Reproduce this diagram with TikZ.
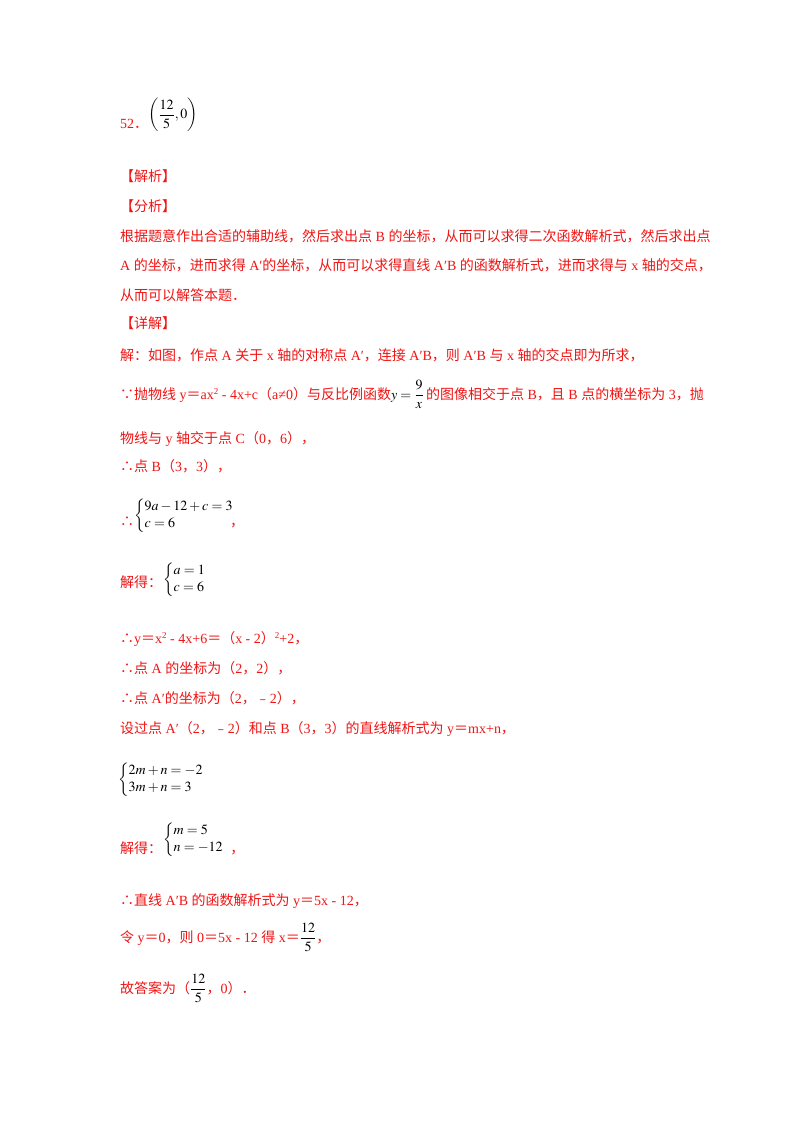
\documentclass[tikz,border=0pt]{standalone}
\usepackage{amsmath}
\usepackage{mathptmx}
\usepackage[no-math]{fontspec}
\setmainfont{Liberation Serif}
\newfontfamily\cjk{Noto Sans CJK SC}
\newfontfamily\latinf{Liberation Serif}
\usepackage{xcolor}
\definecolor{ans}{RGB}{240,20,20}
\newcount\cc
\cc="4E00 \loop \XeTeXcharclass\cc=7 \advance\cc 1 \ifnum\cc<"A000 \repeat
\cc="3000 \loop \XeTeXcharclass\cc=7 \advance\cc 1 \ifnum\cc<"3040 \repeat
\cc="FF00 \loop \XeTeXcharclass\cc=7 \advance\cc 1 \ifnum\cc<"FFF0 \repeat
\cc="FE30 \loop \XeTeXcharclass\cc=7 \advance\cc 1 \ifnum\cc<"FE70 \repeat
\XeTeXcharclass"2234=7 \XeTeXcharclass"2235=7
\XeTeXinterchartokenstate=1
\XeTeXinterchartoks 0 7 {\cjk}
\XeTeXinterchartoks 4095 7 {\cjk}
\XeTeXinterchartoks 7 0 {\latinf}
\XeTeXinterchartoks 7 4095 {\latinf}
\newcommand{\bm}[1]{\textcolor{black}{$#1$}}
\newcommand{\sq}{\raisebox{5pt}{\fontsize{9}{9}\selectfont 2}}
\begin{document}
\begin{tikzpicture}[x=1pt,y=-1pt,
  t/.style={anchor=base west,inner sep=0pt,text=ans,font=\fontsize{14}{17}\selectfont},
  m/.style={anchor=west,inner sep=0pt,text=black,font=\fontsize{14}{17}\selectfont}]
\useasboundingbox[fill=white] (0,0) rectangle (800,1132);
\node[t] (n52) at (120,128) {52．};
\node[m] (ans) at (148,115) {$\left(\dfrac{12}{5},0\right)$};
\node[t] (h1) at (120,181) {【解析】};
\node[t] (h2) at (120,211) {【分析】};
\node[t] (l1) at (120,241) {根据题意作出合适的辅助线，然后求出点 B 的坐标，从而可以求得二次函数解析式，然后求出点};
\node[t] (l2) at (120,270) {A 的坐标，进而求得 A′的坐标，从而可以求得直线 A′B 的函数解析式，进而求得与 x 轴的交点，};
\node[t] (l3) at (120,300) {从而可以解答本题．};
\node[t] (h3) at (120,328) {【详解】};
\node[t] (l4) at (120,360) {解：如图，作点 A 关于 x 轴的对称点 A′，连接 A′B，则 A′B 与 x 轴的交点即为所求，};
\node[t] (l5) at (120,399) {∵抛物线 y＝ax\sq{} ‐ 4x+c（a≠0）与反比例函数\bm{y=\dfrac{9}{x}}\,的图像相交于点 B，且 B 点的横坐标为 3，抛};
\node[t] (l6) at (120,443) {物线与 y 轴交于点 C（0，6），};
\node[t] (l7) at (120,471) {∴点 B（3，3），};
\node[t] (l8) at (120,526) {∴};
\node[m] (s1) at (134,516) {$\left\{\begin{array}{@{}l}9a-12+c=3\\ c=6\end{array}\right.$};
\node[t] (c1) at (230,526) {，};
\node[t] (l9) at (120,587) {解得：};
\node[m] (s2) at (163,580) {$\left\{\begin{array}{@{}l}a=1\\ c=6\end{array}\right.$};
\node[t] (l10) at (120,643) {∴y＝x\sq{} ‐ 4x+6＝（x ‐ 2）\sq{}+2，};
\node[t] (l11) at (120,673) {∴点 A 的坐标为（2，2），};
\node[t] (l12) at (120,703) {∴点 A′的坐标为（2，﹣2），};
\node[t] (l13) at (120,733) {设过点 A′（2，﹣2）和点 B（3，3）的直线解析式为 y＝mx+n，};
\node[m] (s3) at (118,780) {$\left\{\begin{array}{@{}l}2m+n=-2\\ 3m+n=3\end{array}\right.$};
\node[t] (l14) at (120,853) {解得：};
\node[m] (s4) at (163,840) {$\left\{\begin{array}{@{}l}m=5\\ n=-12\end{array}\right.$};
\node[t] (c2) at ([xshift=1pt]s4.east |- l14.base) {，};
\node[t] (l15) at (120,905) {∴直线 A′B 的函数解析式为 y＝5x ‐ 12，};
\node[t] (l16) at (120,942) {令 y＝0，则 0＝5x ‐ 12 得 x＝\bm{\dfrac{12}{5}}，};
\node[t] (l17) at (120,993) {故答案为（\bm{\dfrac{12}{5}}，0）．};
\end{tikzpicture}
\end{document}
